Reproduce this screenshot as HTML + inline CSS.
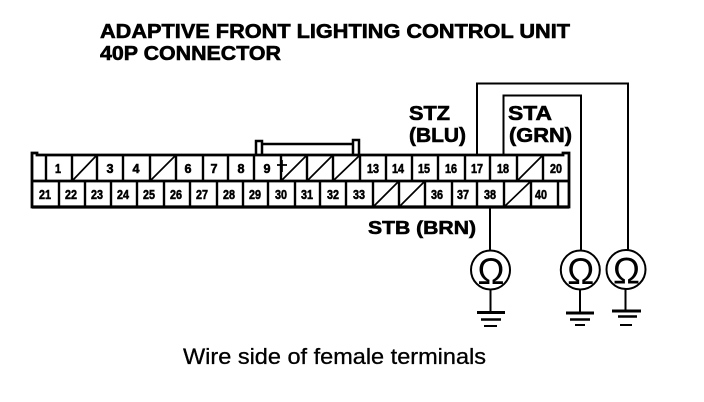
<!DOCTYPE html>
<html><head><meta charset="utf-8"><style>
html,body{margin:0;padding:0;background:#fff}
svg{display:block}
text{font-family:"Liberation Sans",sans-serif;fill:#000}
.t{font-weight:bold;stroke:#000;stroke-width:.6px}
.n{font-weight:bold;font-size:12.5px;text-anchor:middle;stroke:#000;stroke-width:.55px}
.o{font-size:37px;text-anchor:middle}
</style></head><body>
<svg width="704" height="402" viewBox="0 0 704 402" xmlns="http://www.w3.org/2000/svg">
<rect width="704" height="402" fill="#fff"/>
<text class="t" x="100" y="38" font-size="20" textLength="470" lengthAdjust="spacingAndGlyphs">ADAPTIVE FRONT LIGHTING CONTROL UNIT</text>
<text class="t" x="100" y="60" font-size="20" textLength="181" lengthAdjust="spacingAndGlyphs">40P CONNECTOR</text>
<text class="t" x="409" y="120" font-size="20" textLength="41" lengthAdjust="spacingAndGlyphs">STZ</text>
<text class="t" x="409" y="142" font-size="20" textLength="57" lengthAdjust="spacingAndGlyphs">(BLU)</text>
<text class="t" x="508" y="120" font-size="20" textLength="44" lengthAdjust="spacingAndGlyphs">STA</text>
<text class="t" x="509" y="142" font-size="20" textLength="63" lengthAdjust="spacingAndGlyphs">(GRN)</text>
<text class="t" x="368" y="234" font-size="18.500" textLength="108" lengthAdjust="spacingAndGlyphs">STB (BRN)</text>
<text x="183" y="364" font-size="22" stroke="#000" stroke-width=".3" textLength="303" lengthAdjust="spacingAndGlyphs">Wire side of female terminals</text>

<g fill="none" stroke="#000" stroke-width="2">
<!-- wires -->
<path d="M477 155V83.500H628V251"/>
<path d="M503.500 155V95.500H581V251"/>
<path d="M490 207V251"/>
<!-- bridge -->
<path d="M256 155V141H262V155M262 144H353M353 155V140H359V155" stroke-width="2.500"/>
<!-- connector outline -->
<path d="M32 207V153H37V155H563V153H569V207Z" stroke-width="2.800"/>
<path d="M32 181H569" stroke-width="2.800"/>
<path d="M32 207H569" stroke-width="3.200"/>
<!-- top row dividers -->
<path stroke-width="2.400" d="M46 155V181M72 155V181M97 155V181M123 155V181M150 155V181M176 155V181M203 155V181M228 155V181M254 155V181M281 155V181M307 155V181M333 155V181M360 155V181M386 155V181M412 155V181M438 155V181M465 155V181M490 155V181M517 155V181M543 155V181"/>
<!-- bottom row dividers -->
<path stroke-width="2.400" d="M59 181V207M85 181V207M111 181V207M137 181V207M164 181V207M190 181V207M217 181V207M243 181V207M268 181V207M295 181V207M320 181V207M346 181V207M373 181V207M399 181V207M425 181V207M452 181V207M477 181V207M504 181V207M531 181V207M558 181V207"/>
</g>
<!-- slashes -->
<g stroke="#000" stroke-width="1.700" fill="none">
<path d="M73 180L96 156M151 180L175 156M282 180L306 156M308 180L332 156M334 180L359 156M518 180L542 156"/>
<path d="M374 206L398 182M400 206L424 182M505 206L530 182"/>
<path d="M277 165H287M282 160V172"/>
</g>
<!-- numbers -->
<g>
<text class="n" x="58" y="173" textLength="6" lengthAdjust="spacingAndGlyphs">1</text><text class="n" x="110" y="173" textLength="7" lengthAdjust="spacingAndGlyphs">3</text><text class="n" x="136" y="173" textLength="7" lengthAdjust="spacingAndGlyphs">4</text>
<text class="n" x="188" y="173" textLength="7" lengthAdjust="spacingAndGlyphs">6</text><text class="n" x="214" y="173" textLength="7" lengthAdjust="spacingAndGlyphs">7</text><text class="n" x="241" y="173" textLength="7" lengthAdjust="spacingAndGlyphs">8</text>
<text class="n" x="267" y="173" textLength="7" lengthAdjust="spacingAndGlyphs">9</text><text class="n" x="373" y="173" textLength="12" lengthAdjust="spacingAndGlyphs">13</text><text class="n" x="398" y="173" textLength="12" lengthAdjust="spacingAndGlyphs">14</text>
<text class="n" x="424" y="173" textLength="12" lengthAdjust="spacingAndGlyphs">15</text><text class="n" x="451" y="173" textLength="12" lengthAdjust="spacingAndGlyphs">16</text><text class="n" x="477" y="173" textLength="12" lengthAdjust="spacingAndGlyphs">17</text>
<text class="n" x="503" y="173" textLength="12" lengthAdjust="spacingAndGlyphs">18</text><text class="n" x="556" y="173" textLength="12" lengthAdjust="spacingAndGlyphs">20</text>
<text class="n" x="45" y="199" textLength="12" lengthAdjust="spacingAndGlyphs">21</text><text class="n" x="71" y="199" textLength="12" lengthAdjust="spacingAndGlyphs">22</text><text class="n" x="97" y="199" textLength="12" lengthAdjust="spacingAndGlyphs">23</text>
<text class="n" x="123" y="199" textLength="12" lengthAdjust="spacingAndGlyphs">24</text><text class="n" x="149" y="199" textLength="12" lengthAdjust="spacingAndGlyphs">25</text><text class="n" x="176" y="199" textLength="12" lengthAdjust="spacingAndGlyphs">26</text>
<text class="n" x="202" y="199" textLength="12" lengthAdjust="spacingAndGlyphs">27</text><text class="n" x="229" y="199" textLength="12" lengthAdjust="spacingAndGlyphs">28</text><text class="n" x="255" y="199" textLength="12" lengthAdjust="spacingAndGlyphs">29</text>
<text class="n" x="281" y="199" textLength="12" lengthAdjust="spacingAndGlyphs">30</text><text class="n" x="307" y="199" textLength="12" lengthAdjust="spacingAndGlyphs">31</text><text class="n" x="333" y="199" textLength="12" lengthAdjust="spacingAndGlyphs">32</text>
<text class="n" x="359" y="199" textLength="12" lengthAdjust="spacingAndGlyphs">33</text><text class="n" x="437" y="199" textLength="12" lengthAdjust="spacingAndGlyphs">36</text><text class="n" x="463" y="199" textLength="12" lengthAdjust="spacingAndGlyphs">37</text>
<text class="n" x="490" y="199" textLength="12" lengthAdjust="spacingAndGlyphs">38</text><text class="n" x="541" y="199" textLength="12" lengthAdjust="spacingAndGlyphs">40</text>
</g>
<!-- meters -->
<g fill="#fff" stroke="#000" stroke-width="2">
<circle cx="490.500" cy="270" r="19.500"/><circle cx="580.300" cy="270" r="19.500"/><circle cx="626" cy="269.500" r="19.500"/>
</g>
<text class="o" x="491" y="284" textLength="27" lengthAdjust="spacingAndGlyphs">Ω</text>
<text class="o" x="580.800" y="284" textLength="27" lengthAdjust="spacingAndGlyphs">Ω</text>
<text class="o" x="626.500" y="283.500" textLength="27" lengthAdjust="spacingAndGlyphs">Ω</text>
<!-- grounds -->
<g stroke="#000" fill="none">
<path stroke-width="2" d="M490.500 289V312M580 289V312M625.500 289V311"/>
<path stroke-width="3" d="M477 312.500H505M566 313H594M612 311H641"/>
<path stroke-width="2.500" d="M481 319.500H501M570 319.500H590M618 316.500H637"/>
<path stroke-width="2" d="M484 326H497M575 325H585M620 325H632"/>
</g>
</svg>
</body></html>
